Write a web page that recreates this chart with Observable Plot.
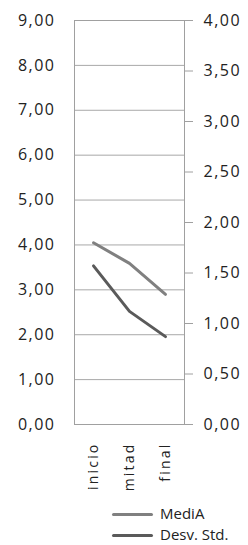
<!DOCTYPE html>
<html>
<head>
<meta charset="utf-8">
<script src="https://cdn.jsdelivr.net/npm/d3@7"></script>
<script src="https://cdn.jsdelivr.net/npm/@observablehq/plot@0.6"></script>
<style>
  body { margin: 0; background: #fff; font-family: "Open Sans", sans-serif; }
  #wrap { position: relative; width: 248px; height: 545px; overflow: hidden; }
  .leg { position: absolute; left: 0; top: 0; width: 248px; }
  .sw { position: absolute; left: 112px; width: 41px; height: 3px; border-radius: 1.5px; }
  .lt { position: absolute; left: 160px; font-size: 15px; color: #222; line-height: 1; white-space: nowrap; }
</style>
</head>
<body>
<div id="wrap"></div>
<script>
const categories = ["inicio", "mitad", "final"];
const mediaValues = [4.05, 3.59, 2.90];
const desvValues = [1.57, 1.12, 0.87];
const leftTicks = [0, 1, 2, 3, 4, 5, 6, 7, 8, 9];
const rightTicks = [0, 0.5, 1, 1.5, 2, 2.5, 3, 3.5, 4];
const seriesNames = ["MediA", "Desv. Std."];
const seriesColors = ["#808080", "#5a5a5a"];

const leftMax = 9, rightMax = 4;
const k = leftMax / rightMax;
const fmt = v => v.toFixed(2).replace(".", ",");

const mediaData = categories.map((c, i) => ({cat: c, v: mediaValues[i]}));
const desvData = categories.map((c, i) => ({cat: c, v: desvValues[i] * k}));

const svg = Plot.plot({
  width: 248,
  height: 500,
  marginLeft: 74,
  marginRight: 64,
  marginTop: 20,
  marginBottom: 76,
  style: {fontFamily: "Open Sans", fontSize: "16px", color: "#222", background: "#fff"},
  x: {type: "point", domain: categories, padding: 0.5},
  y: {domain: [0, leftMax]},
  marks: [
    Plot.gridY(leftTicks, {stroke: "#a8a8a8", strokeOpacity: 1}),
    Plot.frame({stroke: "#a0a0a0"}),
    Plot.axisY({anchor: "left", ticks: leftTicks, tickSize: 0, tickPadding: 19, tickFormat: fmt, fontSize: 16, label: null}),
    Plot.axisY({anchor: "right", ticks: rightTicks.map(v => v * k), tickSize: 8, tickPadding: 11, stroke: "#a0a0a0",
      tickFormat: d => fmt(d / k), fontSize: 16, label: null}),
    Plot.axisX({ticks: categories, tickSize: 0, tickPadding: 18, tickRotate: -90, fontSize: 14, label: null}),
    Plot.line(mediaData, {x: "cat", y: "v", stroke: seriesColors[0], strokeWidth: 3, strokeLinecap: "round", strokeLinejoin: "round"}),
    Plot.line(desvData, {x: "cat", y: "v", stroke: seriesColors[1], strokeWidth: 3, strokeLinecap: "round", strokeLinejoin: "round"})
  ]
});

document.getElementById("wrap").appendChild(svg);
svg.querySelectorAll('[aria-label="y-axis tick label"] text').forEach(t => t.style.letterSpacing = "1.5px");
svg.querySelectorAll('[aria-label="x-axis tick label"] text').forEach(t => t.style.letterSpacing = "2.2px");

const leg = document.createElement("div");
leg.className = "leg";
const legY = [514, 535];
seriesNames.forEach((n, i) => {
  const sw = document.createElement("div");
  sw.className = "sw";
  sw.style.top = (legY[i] - 1.5) + "px";
  sw.style.background = seriesColors[i];
  leg.appendChild(sw);
  const t = document.createElement("div");
  t.className = "lt";
  t.style.top = (legY[i] - 8) + "px";
  t.textContent = n;
  leg.appendChild(t);
});
document.getElementById("wrap").appendChild(leg);
</script>
</body>
</html>
